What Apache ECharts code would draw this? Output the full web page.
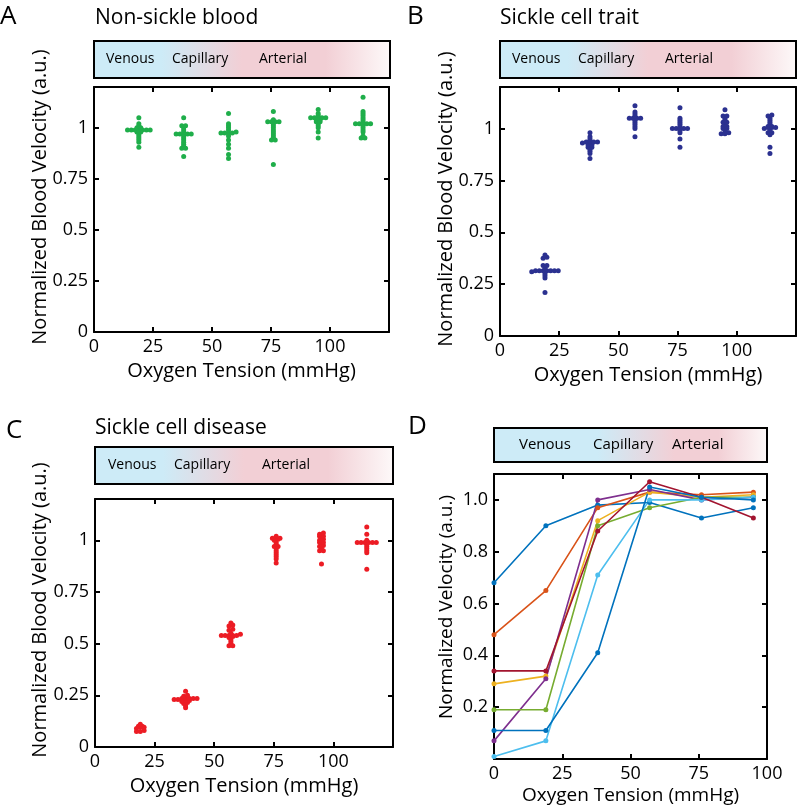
<!DOCTYPE html>
<html><head><meta charset="utf-8">
<script src="https://cdn.jsdelivr.net/npm/echarts@6/dist/echarts.min.js"></script>
<style>html,body{margin:0;padding:0;background:#fff}#c{width:800px;height:808px}</style>
</head><body><div id="c"></div>
<script>
const FONT = 'Open Sans';

// ---------- data ----------
const oxygenGroups = [19, 38, 57, 76, 95, 114];
const nonSickle = [
  [1.05, 1.02, 1.01, 1.0, 1.0, 0.99, 0.99, 0.99, 0.99, 0.99, 0.99, 0.99, 0.98, 0.98, 0.97, 0.96, 0.95, 0.94, 0.93, 0.905],
  [1.05, 1.01, 1.01, 1.0, 0.99, 0.98, 0.97, 0.97, 0.97, 0.97, 0.97, 0.96, 0.95, 0.94, 0.93, 0.92, 0.91, 0.90, 0.90, 0.86],
  [1.07, 1.02, 1.01, 1.0, 0.99, 0.98, 0.975, 0.975, 0.975, 0.975, 0.96, 0.94, 0.92, 0.90, 0.87, 0.85],
  [1.08, 1.04, 1.03, 1.03, 1.03, 1.03, 1.02, 1.01, 1.0, 0.99, 0.98, 0.97, 0.96, 0.95, 0.94, 0.94, 0.82],
  [1.09, 1.07, 1.06, 1.05, 1.05, 1.05, 1.05, 1.05, 1.04, 1.04, 1.03, 1.03, 1.02, 1.01, 1.0, 0.98, 0.95],
  [1.15, 1.08, 1.07, 1.06, 1.05, 1.04, 1.03, 1.02, 1.02, 1.02, 1.02, 1.02, 1.01, 1.0, 0.99, 0.98, 0.96, 0.95, 0.95]
];
const sickleTrait = [
  [0.39, 0.38, 0.375, 0.34, 0.34, 0.33, 0.32, 0.315, 0.315, 0.315, 0.315, 0.315, 0.315, 0.315, 0.31, 0.30, 0.29, 0.28, 0.21],
  [0.98, 0.96, 0.95, 0.94, 0.935, 0.935, 0.935, 0.935, 0.93, 0.92, 0.92, 0.91, 0.91, 0.90, 0.89, 0.88, 0.855],
  [1.11, 1.08, 1.07, 1.06, 1.05, 1.05, 1.05, 1.05, 1.04, 1.03, 1.02, 1.01, 1.0, 0.96],
  [1.10, 1.05, 1.04, 1.03, 1.02, 1.01, 1.0, 1.0, 1.0, 1.0, 1.0, 0.99, 0.98, 0.95, 0.91],
  [1.09, 1.06, 1.06, 1.05, 1.04, 1.03, 1.03, 1.02, 1.01, 1.01, 1.0, 1.0, 0.99, 0.98, 0.975, 0.975],
  [1.065, 1.06, 1.05, 1.04, 1.03, 1.02, 1.01, 1.01, 1.005, 1.005, 1.005, 1.0, 0.99, 0.98, 0.98, 0.97, 0.91, 0.88]
];
const sickleDisease = [
  [0.11, 0.10, 0.10, 0.095, 0.095, 0.09, 0.08, 0.075, 0.075],
  [0.27, 0.25, 0.245, 0.235, 0.235, 0.235, 0.235, 0.235, 0.23, 0.23, 0.225, 0.225, 0.22, 0.215, 0.21, 0.20, 0.19],
  [0.60, 0.59, 0.585, 0.57, 0.565, 0.55, 0.545, 0.54, 0.54, 0.54, 0.54, 0.54, 0.535, 0.53, 0.52, 0.51, 0.50, 0.49, 0.49],
  [1.02, 1.01, 1.01, 1.01, 1.005, 1.0, 0.99, 0.98, 0.97, 0.97, 0.96, 0.95, 0.94, 0.93, 0.92, 0.91, 0.89],
  [1.035, 1.03, 1.02, 1.02, 1.01, 1.005, 1.0, 0.99, 0.99, 0.98, 0.975, 0.97, 0.96, 0.95, 0.95, 0.885],
  [1.065, 1.03, 1.0, 0.99, 0.99, 0.99, 0.99, 0.99, 0.99, 0.98, 0.97, 0.96, 0.95, 0.94, 0.86]
];
const oxygenD = [0, 19, 38, 57, 76, 95];
const velocityD = [
  [0.68, 0.90, 0.98, 0.99, 0.93, 0.97],
  [0.48, 0.65, 0.97, 1.03, 1.02, 1.03],
  [0.29, 0.32, 0.92, 1.03, 1.01, 1.02],
  [0.07, 0.31, 1.00, 1.04, 1.00, 1.01],
  [0.19, 0.19, 0.90, 0.97, 1.01, 1.01],
  [0.01, 0.07, 0.71, 1.00, 1.00, 1.01],
  [0.34, 0.34, 0.88, 1.07, 1.01, 0.93],
  [0.11, 0.11, 0.41, 1.05, 1.01, 1.00]
];
const xTickLabels = [0, 25, 50, 75, 100];
const yTickLabels = [0, 0.25, 0.5, 0.75, 1];
const yTickLabelsD = [0.2, 0.4, 0.6, 0.8, 1.0];
const zoneNames = ['Venous', 'Capillary', 'Arterial'];
const panelTitles = ['Non-sickle blood', 'Sickle cell trait', 'Sickle cell disease'];
const panelLetters = ['A', 'B', 'C', 'D'];

// ---------- styles ----------
const dotColors = ['#1fae4a', '#2b3190', '#ec1c24'];
const lineColors = ['#0072BD', '#D95319', '#EDB120', '#7E2F8E', '#77AC30', '#4DBEEE', '#A2142F', '#0072BD'];
const BLUE = '#cdebf7', PINK = '#f2cfd5';

const grids = [
  {left: 94, top: 87, width: 295, height: 245},
  {left: 500, top: 87, width: 296, height: 249},
  {left: 95, top: 499, width: 298, height: 248},
  {left: 494, top: 474, width: 273, height: 285}
];

function has(list, v) { return list.some(t => Math.abs(t - v) < 1e-6); }

function swarm(vals, cx, step, binH) {
  const s = vals.slice().sort((a, b) => a - b);
  const out = [];
  let i = 0;
  while (i < s.length) {
    let j = i;
    while (j < s.length && s[j] - s[i] < binH) j++;
    const n = j - i;
    for (let k = 0; k < n; k++) out.push([cx + (k - (n - 1) / 2) * step, s[i + k]]);
    i = j;
  }
  return out;
}

const axisLine = {onZero: false, lineStyle: {color: '#000', width: 2}};
const axisTick = {inside: true, length: 5, lineStyle: {color: '#000', width: 2}};
const labelStyle = {fontSize: 18, fontFamily: FONT, color: '#000'};

const xAxis = [], yAxis = [];
grids.forEach((g, gi) => {
  const isD = gi === 3;
  const xmax = isD ? 100 : 125;
  const ymax = isD ? 1.1 : 1.2;
  const yint = isD ? 0.2 : 0.25;
  const nameGap = isD ? 27 : 29;
  const nameSize = isD ? 19 : 20;
  const baseX = {gridIndex: gi, type: 'value', min: 0, max: xmax, interval: 25,
    splitLine: {show: false}, axisLine, axisTick};
  xAxis.push(Object.assign({}, baseX, {position: 'bottom',
    axisLabel: Object.assign({margin: 6, formatter: v => has(xTickLabels, v) ? String(v) : ''}, labelStyle),
    name: 'Oxygen Tension (mmHg)', nameLocation: 'middle', nameGap,
    nameTextStyle: {fontSize: nameSize, fontFamily: FONT, color: '#000'}}));
  xAxis.push(Object.assign({}, baseX, {position: 'top', axisLabel: {show: false}}));
  const baseY = {gridIndex: gi, type: 'value', min: 0, max: ymax, interval: yint,
    splitLine: {show: false}, axisLine, axisTick};
  yAxis.push(Object.assign({}, baseY, {position: 'left',
    axisLabel: Object.assign({margin: 6, formatter: v => isD ? (has(yTickLabelsD, v) ? v.toFixed(1) : '') : (has(yTickLabels, v) ? String(v) : '')}, labelStyle)}));
  yAxis.push(Object.assign({}, baseY, {position: 'right', axisLabel: {show: false}}));
});

const series = [];
[nonSickle, sickleTrait, sickleDisease].forEach((panel, pi) => {
  panel.forEach((vals, gi) => {
    series.push({type: 'scatter', xAxisIndex: pi * 2, yAxisIndex: pi * 2,
      data: swarm(vals, oxygenGroups[gi], 1.6, 0.006),
      symbol: 'circle', symbolSize: 5, itemStyle: {color: dotColors[pi], opacity: 1}, silent: true});
  });
});
velocityD.forEach((vals, i) => {
  series.push({type: 'line', xAxisIndex: 6, yAxisIndex: 6,
    data: oxygenD.map((x, k) => [x, vals[k]]),
    symbol: 'circle', symbolSize: 5, showSymbol: true,
    lineStyle: {color: lineColors[i], width: 1.6}, itemStyle: {color: lineColors[i]}, silent: true});
});

// ---------- graphics ----------
const graphic = [];
function text(x, y, s, size, opts) {
  graphic.push(Object.assign({type: 'text', x, y, style: Object.assign({text: s, fontSize: size, fontFamily: FONT, fill: '#000', align: 'left', verticalAlign: 'middle'}, (opts && opts.style) || {})}, opts && opts.rotation ? {rotation: opts.rotation} : {}));
}
function zoneBar(x, y, w, h, stops, offsets, size) {
  graphic.push({type: 'rect', shape: {x, y, width: w, height: h},
    style: {fill: {type: 'linear', x: 0, y: 0, x2: 1, y2: 0, colorStops: stops}, stroke: '#000', lineWidth: 2}});
  zoneNames.forEach((n, i) => text(x + offsets[i], y + h / 2, n, size));
}
const stopsABC = [
  {offset: 0, color: BLUE}, {offset: 0.23, color: BLUE}, {offset: 0.5, color: PINK},
  {offset: 0.78, color: PINK}, {offset: 1, color: '#fdf9f9'}];
const stopsD = [
  {offset: 0, color: BLUE}, {offset: 0.38, color: BLUE}, {offset: 0.66, color: PINK},
  {offset: 0.82, color: PINK}, {offset: 1, color: '#fdf9f9'}];

zoneBar(94, 41, 296, 37, stopsABC, [12, 78, 165], 14);
zoneBar(500, 41, 296, 37, stopsABC, [12, 78, 165], 14);
zoneBar(95, 447, 298, 37, stopsABC, [13, 79, 167], 14);
zoneBar(494, 428, 273, 34, stopsD, [25, 99, 178], 15);

text(0, 17, panelLetters[0], 26);
text(407, 17, panelLetters[1], 26);
text(6, 431, panelLetters[2], 26);
text(408, 427, panelLetters[3], 26);

text(95, 18, panelTitles[0], 21);
text(500, 18, panelTitles[1], 21);
text(95, 428, panelTitles[2], 21);

const rot = {rotation: Math.PI / 2, style: {align: 'center'}};
text(40, 197, 'Normalized Blood Velocity (a.u.)', 20, rot);
text(446, 199, 'Normalized Blood Velocity (a.u.)', 20, rot);
text(40, 610, 'Normalized Blood Velocity (a.u.)', 20, rot);
text(447, 607, 'Normalized Velocity (a.u.)', 19, rot);

const chart = echarts.init(document.getElementById('c'), null, {renderer: 'canvas'});
chart.setOption({
  animation: false,
  backgroundColor: '#fff',
  grid: grids.map(g => Object.assign({containLabel: false, outerBoundsMode: 'none'}, g)),
  xAxis, yAxis, series, graphic
});
</script>
</body></html>
